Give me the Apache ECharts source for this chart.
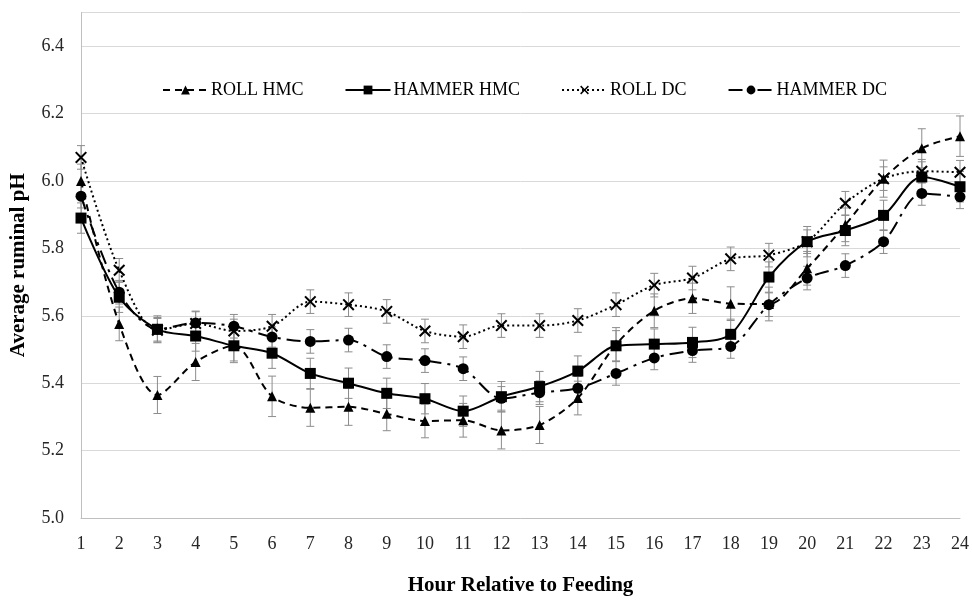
<!DOCTYPE html>
<html>
<head>
<meta charset="utf-8">
<script src="https://cdn.jsdelivr.net/npm/echarts@6/dist/echarts.min.js"></script>
<style>html,body{margin:0;padding:0;background:#fff}#c{width:972px;height:601px}</style>
</head>
<body>
<div id="c"></div>
<script>
const hours = ['1','2','3','4','5','6','7','8','9','10','11','12','13','14','15','16','17','18','19','20','21','22','23','24'];
const yTicks = ['5.0','5.2','5.4','5.6','5.8','6.0','6.2','6.4'];

const rollHMC   = [6.000,5.576,5.365,5.463,5.511,5.361,5.327,5.330,5.309,5.288,5.290,5.260,5.276,5.356,5.515,5.615,5.652,5.636,5.635,5.741,5.870,6.007,6.097,6.133];
const hammerHMC = [5.890,5.655,5.560,5.540,5.511,5.489,5.429,5.400,5.370,5.354,5.317,5.360,5.390,5.436,5.511,5.516,5.521,5.545,5.715,5.820,5.853,5.898,6.012,5.983];
const rollDC    = [6.070,5.735,5.557,5.577,5.555,5.569,5.642,5.633,5.613,5.555,5.538,5.571,5.571,5.586,5.633,5.691,5.712,5.769,5.780,5.820,5.934,6.007,6.029,6.026];
const hammerDC  = [5.955,5.670,5.560,5.579,5.569,5.537,5.524,5.528,5.479,5.467,5.443,5.355,5.372,5.385,5.429,5.475,5.497,5.509,5.633,5.712,5.749,5.820,5.963,5.953];

const rollHMCErr   = [0.050,0.050,0.055,0.055,0.050,0.060,0.055,0.055,0.050,0.050,0.050,0.055,0.055,0.050,0.050,0.050,0.045,0.050,0.050,0.050,0.050,0.055,0.058,0.060];
const hammerHMCErr = [0.045,0.045,0.040,0.045,0.045,0.045,0.045,0.045,0.045,0.045,0.045,0.045,0.045,0.045,0.045,0.045,0.045,0.045,0.045,0.045,0.045,0.045,0.045,0.045];
const rollDCErr    = [0.035,0.035,0.035,0.035,0.035,0.035,0.035,0.035,0.035,0.035,0.035,0.035,0.035,0.035,0.035,0.035,0.035,0.035,0.035,0.035,0.035,0.035,0.035,0.035];
const hammerDCErr  = [0.035,0.035,0.035,0.035,0.035,0.030,0.035,0.035,0.035,0.035,0.035,0.035,0.035,0.035,0.035,0.035,0.035,0.035,0.035,0.035,0.035,0.035,0.035,0.035];

const names = ['ROLL HMC','HAMMER HMC','ROLL DC','HAMMER DC'];
const seriesVals = [rollHMC, hammerHMC, rollDC, hammerDC];
const seriesErrs = [rollHMCErr, hammerHMCErr, rollDCErr, hammerDCErr];

const xPath = 'path://M0,1.2 L1.2,0 L5,3.8 L8.8,0 L10,1.2 L6.2,5 L10,8.8 L8.8,10 L5,6.2 L1.2,10 L0,8.8 L3.8,5 Z';
const styles = [
  {symbol:'triangle', size:10, type:[7,5]},
  {symbol:'rect', size:11, type:'solid'},
  {symbol:xPath, size:12, type:[2,3]},
  {symbol:'circle', size:11, type:[14,6,3,6]}
];

const FONT = '"Liberation Serif", "Times New Roman", serif';

function errSeries(k){
  const data = hours.map((h,i)=>[i, seriesVals[k][i]-seriesErrs[k][i], seriesVals[k][i]+seriesErrs[k][i]]);
  return {
    type:'custom', name:'err'+k, z:1, silent:true,
    data:data,
    renderItem:function(params, api){
      const x = api.value(0);
      const lo = api.coord([x, api.value(1)]);
      const hi = api.coord([x, api.value(2)]);
      const w = 4;
      const st = {stroke:'#8c8c8c', lineWidth:1};
      return {type:'group', children:[
        {type:'line', shape:{x1:lo[0],y1:lo[1],x2:hi[0],y2:hi[1]}, style:st},
        {type:'line', shape:{x1:lo[0]-w,y1:lo[1],x2:lo[0]+w,y2:lo[1]}, style:st},
        {type:'line', shape:{x1:hi[0]-w,y1:hi[1],x2:hi[0]+w,y2:hi[1]}, style:st}
      ]};
    }
  };
}

const series = [];
for (let k=0;k<4;k++) series.push(errSeries(k));
for (let k=0;k<4;k++){
  series.push({
    type:'line', name:names[k], data:seriesVals[k], z:3,
    smooth:0.3,
    symbol:styles[k].symbol, symbolSize:styles[k].size,
    showAllSymbol:true,
    color:'#000',
    lineStyle:{color:'#000', width:2, type:styles[k].type},
    itemStyle:{color:'#000'},
    emphasis:{disabled:true}
  });
}

const chart = echarts.init(document.getElementById('c'), null, {renderer:'canvas'});
chart.setOption({
  animation:false,
  backgroundColor:'#fff',
  textStyle:{fontFamily:FONT},
  grid:{left:80, right:11, top:12.5, bottom:75.3, containLabel:false},
  legend:{
    data:names,
    left:157, top:76,
    itemWidth:45, itemHeight:11, itemGap:41,
    textStyle:{fontFamily:FONT, fontSize:18, color:'#000', padding:[0,0,0,-2]}
  },
  xAxis:{
    type:'category', data:hours, boundaryGap:false,
    name:'Hour Relative to Feeding', nameLocation:'middle', nameGap:57,
    nameTextStyle:{fontFamily:FONT, fontSize:21, fontWeight:'bold', color:'#000'},
    axisLine:{show:true, lineStyle:{color:'#bfbfbf', width:1}},
    axisTick:{show:false},
    axisLabel:{fontFamily:FONT, fontSize:18, color:'#262626', margin:17, interval:0},
    splitLine:{show:false}
  },
  yAxis:{
    type:'value', min:5.0, max:6.5, interval:0.2,
    name:'Average ruminal pH', nameLocation:'middle', nameGap:52, nameRotate:90,
    nameTextStyle:{fontFamily:FONT, fontSize:21, fontWeight:'bold', color:'#000'},
    axisLine:{show:true, lineStyle:{color:'#bfbfbf', width:1}},
    axisTick:{show:false},
    axisLabel:{fontFamily:FONT, fontSize:18, color:'#262626', margin:17,
      formatter:function(v){ const s=v.toFixed(1); return yTicks.indexOf(s)>=0 ? s : ''; }},
    splitLine:{show:true, lineStyle:{color:'#d9d9d9', width:1}}
  },
  series:series
});
</script>
</body>
</html>
